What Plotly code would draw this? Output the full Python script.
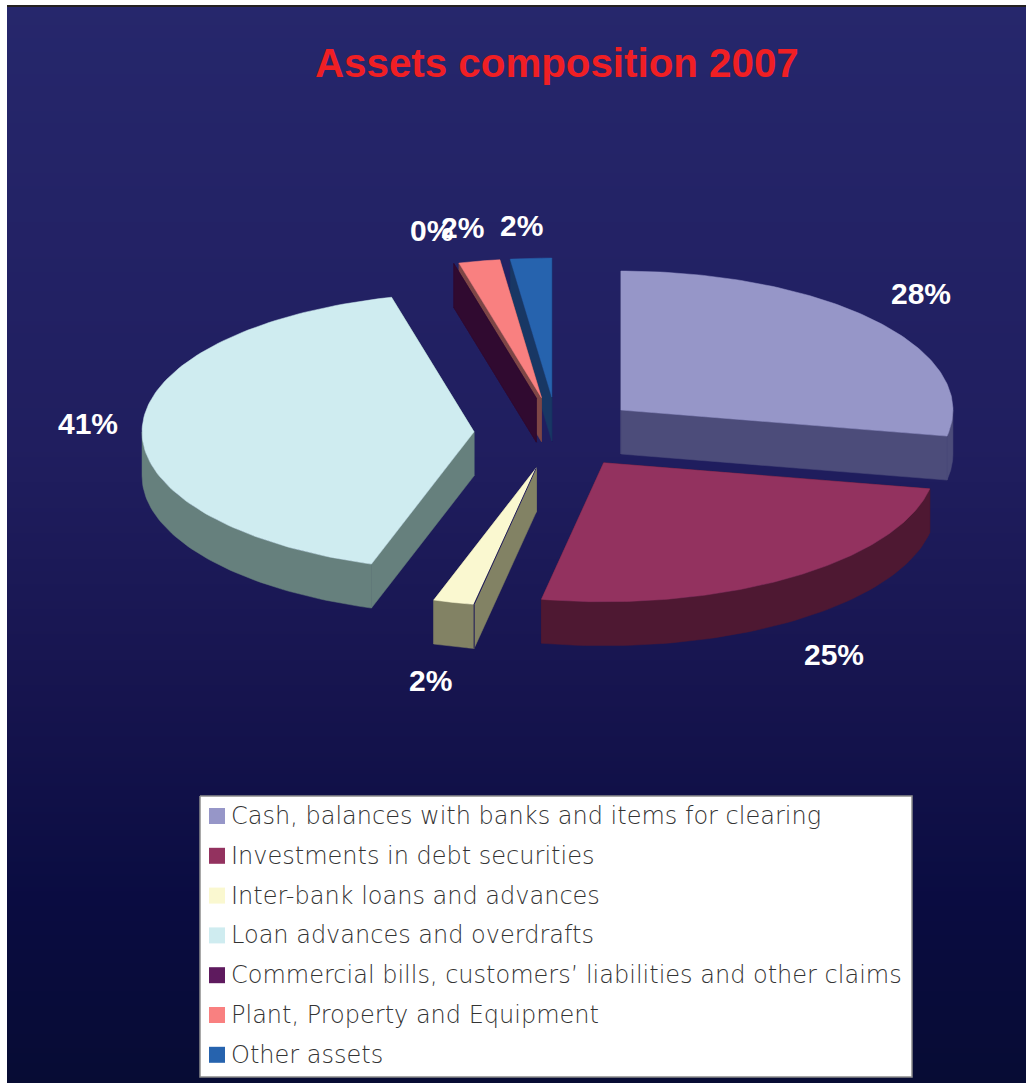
import math
import numpy as np
import plotly.graph_objects as go

# Asset shares in percent, clockwise from twelve o'clock
categories = [
    "Cash, balances with banks and items for clearing",
    "Investments in debt securities",
    "Inter-bank loans and advances",
    "Loan advances and overdrafts",
    "Commercial bills, customers’ liabilities and other claims",
    "Plant, Property and Equipment",
    "Other assets",
]
shares = [28, 25, 2, 41, 0, 2, 2]

top_colors = ["#9696C8", "#93325F", "#FAF8D0", "#CFECF0", "#5E1A5E", "#F98080", "#2663AE"]
wall_colors = ["#4C4C7A", "#4E1832", "#828264", "#66807D", "#300A30", "#7D4646", "#183764"]

# Projection of the tilted pie on the page, in pixels
CENTER_X, CENTER_Y = 557.0, 433.0
RADIUS_X, RADIUS_Y = 332.0, 139.0
DEPTH = 44.0
EXPLODE_X, EXPLODE_Y = 83.0, 36.0

# Data-label anchor points, in pixels
label_x = [921, 834, 430, 88, 431, 462, 521]
label_y = [293, 654, 680, 423, 230, 227, 225]

LEGEND_LEFT, LEGEND_TOP, LEGEND_RIGHT, LEGEND_BOTTOM = 200, 796, 912, 1077
LEGEND_ROW0, LEGEND_STEP = 816, 39.8


def rim(ax, ay, degrees):
    t = np.radians(degrees)
    return ax + RADIUS_X * np.sin(t), ay - RADIUS_Y * np.cos(t)


def extrude(xs, ys):
    xs, ys = list(xs), list(ys)
    return xs + xs[::-1], ys + [y + DEPTH for y in ys[::-1]]


def polygon(xs, ys, color, name, edge=None, edge_width=0.5):
    return go.Scatter(
        x=list(xs) + [xs[0]], y=list(ys) + [ys[0]], mode="lines", fill="toself",
        fillcolor=color, line=dict(color=edge or color, width=edge_width), hoverinfo="skip",
        showlegend=False, name=name,
    )


fig = go.Figure()

# Vertical background gradient
rows = np.linspace(0, 1083, 60)
fig.add_trace(go.Heatmap(
    x=[0, 1026], y=rows, z=[[r, r] for r in rows], zsmooth="best", showscale=False,
    hoverinfo="skip",
    colorscale=[[0, "#26276C"], [0.41, "#201E5F"], [0.644, "#16144E"], [0.83, "#0A0C41"], [1, "#070C34"]],
))

# Slice angles and exploded apexes derived from the shares
total = sum(shares)
angle = 0.0
slices = []
for share, top, wall, name in zip(shares, top_colors, wall_colors, categories):
    start, end = angle, angle + 360.0 * share / total
    mid = math.radians((start + end) / 2)
    ax = CENTER_X + EXPLODE_X * math.sin(mid)
    ay = CENTER_Y - EXPLODE_Y * math.cos(mid)
    slices.append(dict(start=start, end=end, ax=ax, ay=ay, top=top, wall=wall, name=name))
    angle = end

# Side walls go in first, furthest slices before nearer ones
for s in [slices[i] for i in (6, 5, 4, 0, 1, 2, 3)]:
    for edge in (s["end"], s["start"]):
        rx, ry = rim(s["ax"], s["ay"], edge)
        xs, ys = extrude([s["ax"], float(rx)], [s["ay"], float(ry)])
        fig.add_trace(polygon(xs, ys, s["wall"], s["name"]))
    lo, hi = max(s["start"], 90.0), min(s["end"], 270.0)
    if hi > lo:
        rx, ry = rim(s["ax"], s["ay"], np.linspace(lo, hi, 60))
        xs, ys = extrude(rx, ry)
        fig.add_trace(polygon(xs, ys, s["wall"], s["name"]))

# Top faces
for s in slices:
    if s["end"] > s["start"]:
        rx, ry = rim(s["ax"], s["ay"], np.linspace(s["start"], s["end"], 120))
        fig.add_trace(polygon([s["ax"], *rx], [s["ay"], *ry], s["top"], s["name"]))

# Dark seam along the leading edge of the inter-bank wedge
seam = slices[2]
sx, sy = rim(seam["ax"], seam["ay"], seam["start"])
fig.add_trace(go.Scatter(
    x=[seam["ax"], float(sx), float(sx)], y=[seam["ay"], float(sy), float(sy) + DEPTH],
    mode="lines", line=dict(color="#1C1858", width=1), hoverinfo="skip", showlegend=False,
))

# Legend panel and swatches
fig.add_trace(polygon(
    [LEGEND_LEFT, LEGEND_RIGHT, LEGEND_RIGHT, LEGEND_LEFT],
    [LEGEND_TOP, LEGEND_TOP, LEGEND_BOTTOM, LEGEND_BOTTOM],
    "white", "legend", edge="#8C8C8C", edge_width=1.5,
))
legend_rows = [LEGEND_ROW0 + i * LEGEND_STEP for i in range(len(categories))]
fig.add_trace(go.Scatter(
    x=[217] * len(categories), y=legend_rows, mode="markers", hoverinfo="skip", showlegend=False,
    marker=dict(symbol="square", size=16, color=top_colors, line=dict(width=0)),
))

annotations = [dict(
    x=557, y=63, text="<b>Assets composition 2007</b>", showarrow=False, xanchor="center",
    yanchor="middle", font=dict(family="Liberation Sans", size=40.3, color="#F01F24"),
)]
for share, lx, ly in zip(shares, label_x, label_y):
    annotations.append(dict(
        x=lx, y=ly, text=f"<b>{share}%</b>", showarrow=False, xanchor="center", yanchor="middle",
        font=dict(family="Liberation Sans", size=30, color="white"),
    ))
for name, ly in zip(categories, legend_rows):
    annotations.append(dict(
        x=229, y=ly, text=name, showarrow=False, xanchor="left", yanchor="middle",
        font=dict(family="DejaVu Sans", size=24, color="#333333", weight=200),
    ))

fig.update_layout(
    width=1026, height=1083, margin=dict(l=0, r=0, t=0, b=0),
    paper_bgcolor="white", plot_bgcolor="white",
    xaxis=dict(range=[0, 1026], visible=False, fixedrange=True),
    yaxis=dict(range=[1083, 0], visible=False, fixedrange=True),
    annotations=annotations,
    shapes=[
        dict(type="rect", layer="above", x0=0, x1=7, y0=0, y1=1083,
             fillcolor="white", line=dict(width=0)),
        dict(type="rect", layer="above", x0=0, x1=1026, y0=0, y1=5,
             fillcolor="white", line=dict(width=0)),
        dict(type="rect", layer="above", x0=7, x1=1026, y0=5, y1=7,
             fillcolor="#242121", line=dict(width=0)),
    ],
)

fig.write_html("out.html", config=dict(displayModeBar=False))
